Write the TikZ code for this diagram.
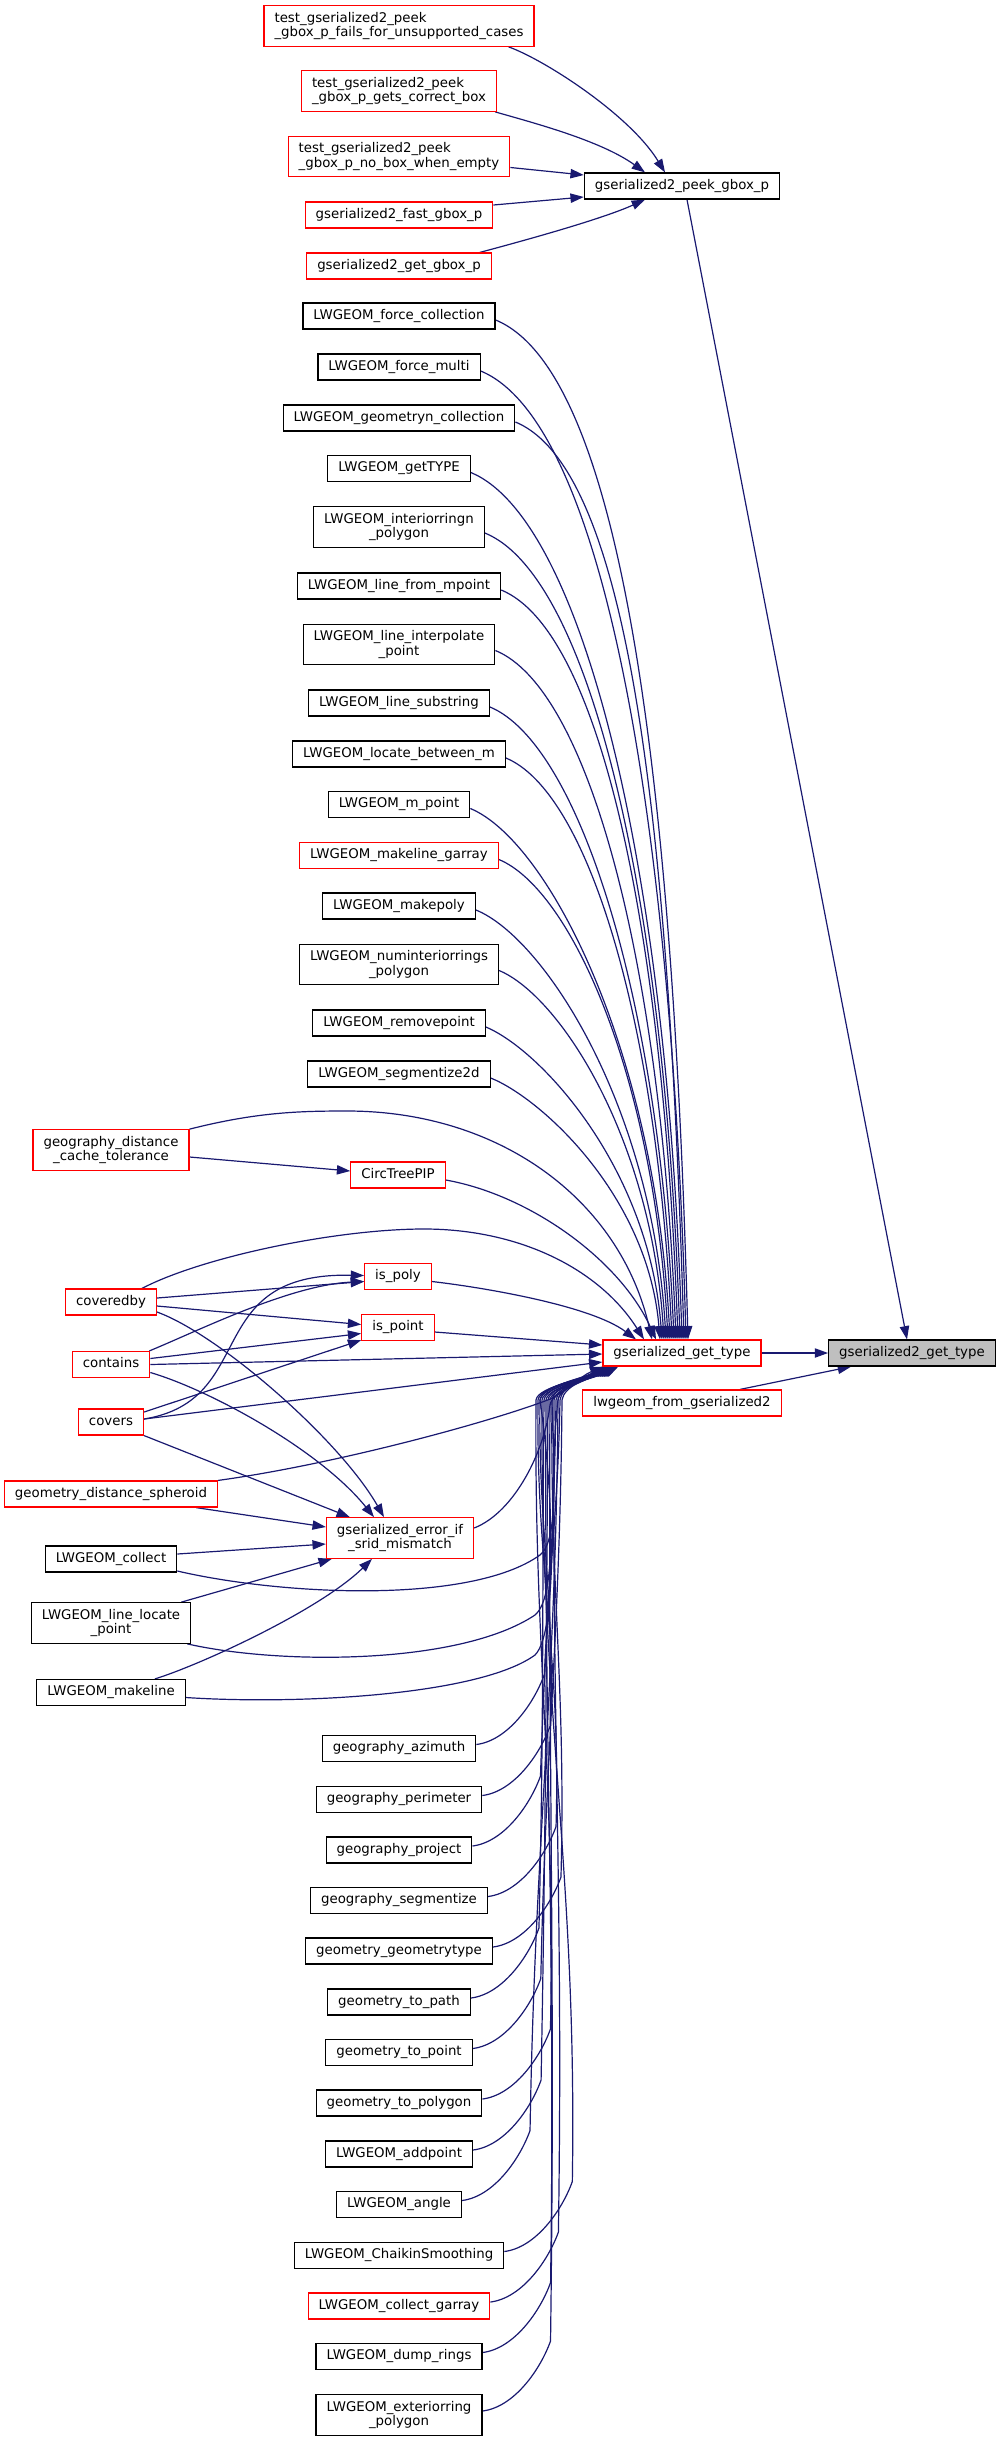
\documentclass[tikz,border=0pt]{standalone}
\usepackage{fontspec}
\setmainfont{DejaVu Sans}
\usetikzlibrary{arrows.meta,calc}
\pgfdeclarelayer{edgelayer}
\pgfsetlayers{edgelayer,main}
\definecolor{edgeblue}{HTML}{191970}
\definecolor{rootgrey}{HTML}{BFBFBF}
\definecolor{nodered}{HTML}{FF0000}
\newcommand{\upedge}[7]{\draw[edg] ($(#1.east)+(0,#2)$) .. controls +(#3,#4) and +(#5,#6) .. ($(gt.north)+(#7,0)$);}
\newcommand{\lowedge}[5]{\draw[edg] ($(#1.east)+(0,-4)$) .. controls +(32,-4) and +(-10,28) .. ++(68,-70) .. controls +(5,-#3) and +(-2,#3) .. (#2,1400) .. controls +(2,-14) and +(-24,12) .. ($(gt.south west)+(#4,#5)$);}
\begin{document}
\begin{tikzpicture}[x=0.75pt,y=-0.75pt,
  nd/.style={draw=black, line width=0.9pt, fill=white, inner xsep=7.9pt, inner ysep=0pt,
    minimum height=19.5pt, font=\fontsize{10pt}{11pt}\selectfont, text height=7.6pt, text depth=2.4pt},
  nd2/.style={draw=black, line width=0.9pt, fill=white, inner xsep=7.9pt, inner ysep=0pt,
    minimum height=30.4pt, font=\fontsize{10pt}{11pt}\selectfont, align=center},
  rd/.style={draw=nodered},
  edg/.style={draw=edgeblue, line width=0.9pt, -{Triangle[length=10pt,width=7pt]}}
]
\useasboundingbox (0,0) rectangle (997,2441);

% ---- nodes ----
\node[nd2,rd,align=left] (tf) at (399,26) {test\_gserialized2\_peek\\\_gbox\_p\_fails\_for\_unsupported\_cases};
\node[nd2,rd,align=left] (tg) at (399,91) {test\_gserialized2\_peek\\\_gbox\_p\_gets\_correct\_box};
\node[nd2,rd,align=left] (tn) at (399,156.5) {test\_gserialized2\_peek\\\_gbox\_p\_no\_box\_when\_empty};
\node[nd,rd] (fg) at (399,215) {gserialized2\_fast\_gbox\_p};
\node[nd,rd] (gg) at (399,266) {gserialized2\_get\_gbox\_p};
\node[nd] (pk) at (682,186) {gserialized2\_peek\_gbox\_p};
\node[nd,fill=rootgrey] (gsb) at (912,1353) {gserialized2\_get\_type};
\node[nd,rd] (gt) at (682,1353) {gserialized\_get\_type};
\node[nd,rd] (lf) at (682,1403) {lwgeom\_from\_gserialized2};

\node[nd] (u1) at (399,316) {LWGEOM\_force\_collection};
\node[nd] (u2) at (399,367) {LWGEOM\_force\_multi};
\node[nd] (u3) at (399,418) {LWGEOM\_geometryn\_collection};
\node[nd] (u4) at (399,468.5) {LWGEOM\_getTYPE};
\node[nd2] (u5) at (399,527) {LWGEOM\_interiorringn\\\_polygon};
\node[nd] (u6) at (399,586) {LWGEOM\_line\_from\_mpoint};
\node[nd2] (u7) at (399,644.5) {LWGEOM\_line\_interpolate\\\_point};
\node[nd] (u8) at (399,703) {LWGEOM\_line\_substring};
\node[nd] (u9) at (399,754) {LWGEOM\_locate\_between\_m};
\node[nd] (u10) at (399,804.5) {LWGEOM\_m\_point};
\node[nd,rd] (u11) at (399,855.5) {LWGEOM\_makeline\_garray};
\node[nd] (u12) at (399,906) {LWGEOM\_makepoly};
\node[nd2] (u13) at (399,964.5) {LWGEOM\_numinteriorrings\\\_polygon};
\node[nd] (u14) at (399,1023) {LWGEOM\_removepoint};
\node[nd] (u15) at (399,1074) {LWGEOM\_segmentize2d};

\node[nd2,rd] (gd) at (111,1150) {geography\_distance\\\_cache\_tolerance};
\node[nd,rd] (ct) at (398,1175) {CircTreePIP};
\node[nd,rd] (ip) at (398,1276.5) {is\_poly};
\node[nd,rd] (cb) at (111,1302) {coveredby};
\node[nd,rd] (ipt) at (398,1327.5) {is\_point};
\node[nd,rd] (cn) at (111,1364.5) {contains};
\node[nd,rd] (cv) at (111,1422) {covers};
\node[nd,rd] (gds) at (111,1494) {geometry\_distance\_spheroid};
\node[nd2,rd] (ei) at (400,1538) {gserialized\_error\_if\\\_srid\_mismatch};
\node[nd] (lc) at (111,1559) {LWGEOM\_collect};
\node[nd2] (ll) at (111,1623) {LWGEOM\_line\_locate\\\_point};
\node[nd] (ml) at (111,1692.5) {LWGEOM\_makeline};

\node[nd] (l1) at (399,1748.5) {geography\_azimuth};
\node[nd] (l2) at (399,1799.5) {geography\_perimeter};
\node[nd] (l3) at (399,1850) {geography\_project};
\node[nd] (l4) at (399,1900.5) {geography\_segmentize};
\node[nd] (l5) at (399,1951) {geometry\_geometrytype};
\node[nd] (l6) at (399,2002) {geometry\_to\_path};
\node[nd] (l7) at (399,2052.5) {geometry\_to\_point};
\node[nd] (l8) at (399,2103) {geometry\_to\_polygon};
\node[nd] (l9) at (399,2154) {LWGEOM\_addpoint};
\node[nd] (l10) at (399,2204.5) {LWGEOM\_angle};
\node[nd] (l11) at (399,2255.5) {LWGEOM\_ChaikinSmoothing};
\node[nd,rd] (l12) at (399,2306) {LWGEOM\_collect\_garray};
\node[nd] (l13) at (399,2356.5) {LWGEOM\_dump\_rings};
\node[nd2] (l14) at (399,2415) {LWGEOM\_exteriorring\\\_polygon};

\begin{pgfonlayer}{edgelayer}
% ---- edges: peek group ----
\draw[edg] ($(tf.south east)+(-26,0)$) .. controls (545,60) and (630,115) .. ($(pk.north)+(-17,0)$);
\draw[edg] ($(tg.south east)+(-2,0)$) .. controls (530,122) and (600,140) .. ($(pk.north)+(-37,0)$);
\draw[edg] ($(tn.east)+(0,11)$) -- ($(pk.west)+(0,-11)$);
\draw[edg] ($(fg.east)+(0,-10)$) -- ($(pk.west)+(0,11)$);
\draw[edg] ($(gg.north east)+(-12,0)$) .. controls (515,243) and (600,220) .. ($(pk.south)+(-37,0)$);
\draw[edg] ($(pk.south)+(5,0)$) -- ($(gsb.north)+(-5,0)$);
\draw[edg] (gt.east) -- (gsb.west);
\draw[edg] ($(lf.north)+(58,0)$) -- ($(gsb.south west)+(23,0)$);

% ---- edges: upper callers ----
\upedge{u1}{4}{126}{52}{-15}{-561}{6}
\upedge{u2}{4}{121}{50}{-15}{-533}{4}
\upedge{u3}{4}{116}{48}{-15}{-505}{2}
\upedge{u4}{4}{111}{46}{-15}{-477}{0}
\upedge{u5}{6}{105}{43}{-15}{-444}{-2}
\upedge{u6}{4}{99}{41}{-15}{-412}{-4}
\upedge{u7}{6}{93}{38}{-15}{-379}{-6}
\upedge{u8}{4}{87}{36}{-15}{-348}{-8}
\upedge{u9}{4}{82}{34}{-15}{-320}{-10}
\upedge{u10}{4}{77}{32}{-15}{-292}{-12}
\upedge{u11}{4}{72}{30}{-14}{-264}{-14}
\upedge{u12}{4}{67}{27}{-14}{-236}{-16}
\upedge{u13}{6}{60}{25}{-13}{-203}{-18}
\upedge{u14}{4}{55}{23}{-13}{-172}{-20}
\upedge{u15}{4}{50}{20}{-12}{-144}{-22}

% ---- edges: middle ----
\draw[edg] ($(gd.east)+(0,7)$) -- ($(ct.west)+(0,-4)$);
\draw[edg] (gd.north east) .. controls (257,1112) and (300,1111) .. (347,1111) .. controls (500,1111) and (620,1200) .. ($(gt.north)+(-30,0)$);
\draw[edg] ($(ct.east)+(0,5)$) .. controls (530,1195) and (620,1260) .. ($(gt.north)+(-26,0)$);
\draw[edg] ($(cb.north)+(31,0)$) .. controls (200,1258) and (330,1230) .. (420,1229) .. controls (520,1228) and (600,1270) .. ($(gt.north)+(-38,0)$);
\draw[edg] ($(ip.east)+(0,5)$) .. controls (480,1287) and (590,1305) .. ($(gt.north)+(-46,0)$);
\draw[edg] ($(ipt.east)+(0,4.5)$) -- ($(gt.west)+(0,-8)$);
\draw[edg] (cn.east) -- ($(gt.west)+(0,1)$);
\draw[edg] ($(cv.east)+(0,-3)$) -- ($(gt.west)+(0,9)$);

\draw[edg] ($(cb.east)+(0,-4)$) -- ($(ip.west)+(0,5)$);
\draw[edg] ($(cn.north east)+(-1,0)$) .. controls (200,1330) and (290,1285) .. ($(ip.west)+(0,5)$);
\draw[edg] ($(cv.east)+(0,-3)$) .. controls (260,1400) and (200,1272) .. ($(ip.west)+(0,-1)$);
\draw[edg] ($(cb.east)+(0,4)$) -- ($(ipt.west)+(0,-3)$);
\draw[edg] ($(cn.east)+(0,-6)$) -- ($(ipt.west)+(0,6)$);
\draw[edg] ($(cv.east)+(0,-10)$) -- ($(ipt.south west)+(0,-1)$);

\draw[edg] ($(cb.east)+(0,10)$) .. controls (220,1335) and (340,1440) .. ($(ei.north)+(-16,0)$);
\draw[edg] ($(cn.east)+(0,8)$) .. controls (210,1390) and (320,1450) .. ($(ei.north)+(-26,0)$);
\draw[edg] (cv.south east) -- ($(ei.north west)+(24,0)$);
\draw[edg] ($(gds.south east)+(-22,0)$) -- ($(ei.west)+(0,-11)$);
\draw[edg] ($(lc.east)+(0,-5)$) -- ($(ei.west)+(0,6)$);
\draw[edg] ($(ll.north east)+(-10,0)$) -- ($(ei.south west)+(6,0)$);
\draw[edg] ($(ml.north east)+(-31,0)$) .. controls (200,1665) and (320,1610) .. ($(ei.south)+(-28,0)$);

\draw[edg] (gds.north east) .. controls (330,1465) and (480,1425) .. (545,1401) .. controls +(20,-7) and +(-24,10) .. ($(gt.south west)+(1,0)$);
\draw[edg] ($(ei.east)+(0,-10)$) .. controls (515,1512) and (545,1450) .. (550,1405) .. controls +(2,-14) and +(-24,12) .. ($(gt.south west)+(12,0)$);
\draw[edg] ($(lc.east)+(0,12)$) .. controls (280,1595) and (470,1605) .. (540,1555) .. controls (560,1540) and (553,1460) .. (552,1400) .. controls +(2,-14) and +(-24,12) .. ($(gt.south west)+(6,0)$);
\draw[edg] ($(ll.south east)+(-4,0)$) .. controls (280,1665) and (460,1665) .. (535,1615) .. controls (560,1595) and (550,1470) .. (540,1400) .. controls +(2,-14) and +(-24,12) .. ($(gt.south west)+(8,0)$);
\draw[edg] ($(ml.east)+(0,5)$) .. controls (300,1705) and (480,1695) .. (535,1655) .. controls (560,1630) and (548,1480) .. (558,1400) .. controls +(2,-14) and +(-24,12) .. ($(gt.south west)+(10,0)$);

% ---- edges: lower callers ----
\lowedge{l1}{560}{110}{3}{0}
\lowedge{l2}{540}{130}{4}{0}
\lowedge{l3}{556}{151}{5}{0}
\lowedge{l4}{538}{171}{6}{0}
\lowedge{l5}{552}{191}{7}{0}
\lowedge{l6}{544}{212}{8}{0}
\lowedge{l7}{562}{232}{9}{0}
\lowedge{l8}{536}{253}{10}{0}
\lowedge{l9}{548}{273}{11}{0}
\lowedge{l10}{558}{293}{12}{0}
\lowedge{l11}{542}{314}{13}{0}
\lowedge{l12}{554}{334}{14}{0}
\lowedge{l13}{546}{354}{15}{0}
\lowedge{l14}{550}{376}{16}{0}
\end{pgfonlayer}
\end{tikzpicture}
\end{document}
